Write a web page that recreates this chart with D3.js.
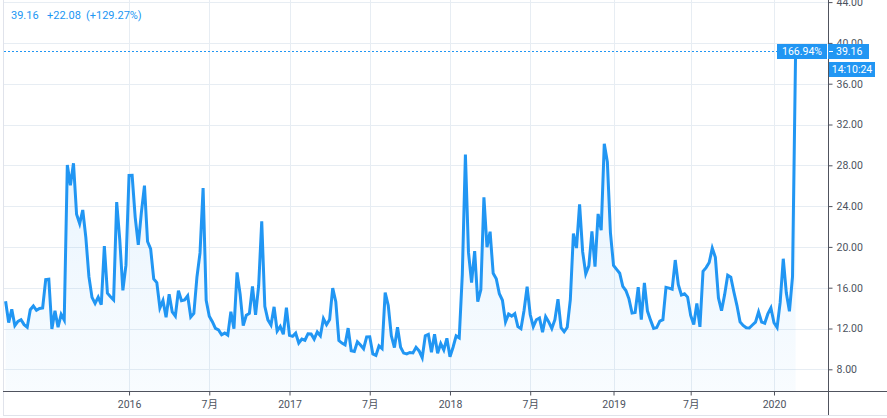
<!DOCTYPE html>
<html><head><meta charset="utf-8">
<script src="https://cdn.jsdelivr.net/npm/d3@7"></script>
<style>
html,body{margin:0;padding:0;background:#fff;overflow:hidden;}
svg{display:block;font-family:Roboto,"Noto Sans CJK SC",sans-serif;}
</style></head><body>
<svg id="chart" width="887" height="418"></svg>
<script>
// ---- data (weekly closes, first bar week of 2015-03-30) ----
const startDate = "2015-03-30";
const values = [
14.67,12.58,13.89,12.29,12.70,12.86,12.38,12.13,13.84,14.21,
13.78,13.96,14.02,16.79,16.83,11.95,13.74,12.12,13.39,12.83,
28.03,26.05,28.20,23.20,22.28,23.62,20.94,17.08,15.05,14.46,
15.07,14.33,20.08,15.47,15.12,14.81,24.39,20.70,15.74,18.21,
27.01,27.02,22.90,20.20,23.38,26.00,20.53,19.81,16.86,16.50,
14.02,14.74,13.10,15.36,13.62,13.22,15.70,14.72,14.80,15.20,
13.12,13.47,17.03,19.41,25.76,14.77,13.20,12.67,12.02,11.87,
11.39,11.55,11.34,13.65,11.98,17.50,15.37,12.29,13.29,13.48,
16.12,13.34,16.19,22.51,14.17,12.85,12.34,14.12,11.75,12.20,
11.44,14.04,11.32,11.23,11.54,10.58,10.97,10.85,11.49,11.47,
10.96,11.66,11.28,12.96,12.37,12.87,15.96,14.63,10.82,10.57,
10.40,12.04,9.81,9.75,10.70,10.38,10.02,11.18,11.19,9.51,
9.36,10.29,10.03,15.51,14.26,11.28,10.13,12.12,10.17,9.59,
9.51,9.65,9.61,10.15,9.80,9.14,11.29,11.43,9.67,11.43,
9.58,10.53,9.90,11.04,9.22,10.16,11.27,11.08,17.31,29.06,
19.46,16.49,19.59,14.64,15.80,24.87,19.97,21.49,17.41,16.88,
15.41,14.77,12.65,13.42,13.22,13.46,12.18,11.98,13.77,16.09,
13.37,12.18,12.86,13.03,11.64,13.16,12.64,11.99,12.86,14.88,
12.07,11.68,12.12,14.82,21.31,19.89,24.16,19.51,17.36,18.14,
21.52,18.07,23.23,21.63,30.11,28.34,21.38,18.19,17.80,17.42,
16.14,15.72,14.91,13.51,13.57,16.05,12.88,16.48,13.71,12.82,
12.01,12.09,12.73,12.87,16.04,15.96,15.85,18.71,16.30,15.28,
15.40,15.08,13.28,12.39,14.45,12.16,17.61,17.97,18.47,19.87,
18.98,15.00,13.74,15.32,17.22,17.04,15.58,14.25,12.65,12.30,
12.07,12.05,12.34,12.62,13.62,12.63,12.51,13.43,14.02,12.56,
12.10,14.56,18.84,15.47,13.68,17.08,39.16
];
const xTickDates = ["2016-01-04","2016-07-04","2017-01-02","2017-07-03","2018-01-01","2018-07-02","2019-01-07","2019-07-01","2020-01-06"];
const xTickLabels = ["2016","7月","2017","7月","2018","7月","2019","7月","2020"];
const yTicks = [8,12,16,20,24,28,32,36,40,44];
const headerParts = ["39.16","+22.08","(+129.27%)"];
const pctLabel = "166.94%";
const lastLabel = "39.16";
const timeLabel = "14:10:24";

// ---- layout ----
const W = 887, H = 418;
const plotL = 3, plotR = 828, axisY = 391, bottomY = 415;
const blue = "#2196f3", gridC = "#e7edf3", axisC = "#50535e", textC = "#4c525e";

const parse = d3.utcParse("%Y-%m-%d");
const start = parse(startDate);
const dates = values.map((v, i) => d3.utcDay.offset(start, 7 * i));
const data = values.map((v, i) => ({date: dates[i], value: v}));

const x = d3.scaleUtc().domain([dates[0], dates[dates.length - 1]]).range([5.6, 795.6]);
const y = d3.scaleLinear().domain([8, 44]).range([369.3, 2.1]);

const svg = d3.select("#chart");
const defs = svg.append("defs");
defs.append("clipPath").attr("id", "plotClip").append("rect")
  .attr("x", plotL).attr("y", 0).attr("width", plotR - plotL).attr("height", axisY);
const grad = defs.append("linearGradient").attr("id", "areaGrad")
  .attr("gradientUnits", "userSpaceOnUse").attr("x1", 0).attr("x2", 0)
  .attr("y1", y(39.16)).attr("y2", axisY);
grad.append("stop").attr("offset", 0).attr("stop-color", blue).attr("stop-opacity", 0.13);
grad.append("stop").attr("offset", 1).attr("stop-color", blue).attr("stop-opacity", 0.03);

// frame
svg.append("line").attr("x1", 3.5).attr("x2", 3.5).attr("y1", 0).attr("y2", bottomY)
  .attr("stroke", "#e0e3eb");
svg.append("line").attr("x1", 3).attr("x2", W).attr("y1", bottomY + 0.5).attr("y2", bottomY + 0.5)
  .attr("stroke", "#e0e3eb");

// grid
const grid = svg.append("g");
grid.selectAll("line.h").data(yTicks).join("line").attr("class", "h")
  .attr("x1", plotL + 1).attr("x2", plotR)
  .attr("y1", d => Math.round(y(d)) + 0.5).attr("y2", d => Math.round(y(d)) + 0.5)
  .attr("stroke", gridC);
const xTicks = xTickDates.map(parse);
grid.selectAll("line.v").data(xTicks).join("line").attr("class", "v")
  .attr("x1", d => Math.round(x(d)) + 0.5).attr("x2", d => Math.round(x(d)) + 0.5)
  .attr("y1", 0).attr("y2", axisY)
  .attr("stroke", gridC);

// area + line
const plot = svg.append("g").attr("clip-path", "url(#plotClip)");
plot.append("path").datum(data)
  .attr("d", d3.area().x(d => x(d.date)).y0(axisY).y1(d => y(d.value)))
  .attr("fill", "url(#areaGrad)");
plot.append("path").datum(data)
  .attr("d", d3.line().x(d => x(d.date)).y(d => y(d.value)))
  .attr("fill", "none").attr("stroke", blue).attr("stroke-width", 3)
  .attr("stroke-linejoin", "miter").attr("stroke-miterlimit", 4);

// last price dashed line
const lastY = Math.round(y(values[values.length - 1])) + 0.5;
svg.append("line").attr("x1", plotL + 1).attr("x2", plotR).attr("y1", lastY).attr("y2", lastY)
  .attr("stroke", blue).attr("stroke-width", 1).attr("stroke-dasharray", "2,2");

// axes
const yAxis = d3.axisRight(y).tickValues(yTicks).tickFormat(d3.format(".2f"))
  .tickSize(4).tickPadding(4);
const yg = svg.append("g").attr("transform", `translate(${plotR + 0.5},0)`).call(yAxis);
yg.select(".domain").remove();
yg.selectAll("line").attr("stroke", axisC);
yg.selectAll("text").attr("fill", textC).attr("font-size", "10.5px")
  .attr("font-family", 'Roboto,"Noto Sans CJK SC",sans-serif');

const xAxis = d3.axisBottom(x).tickValues(xTicks)
  .tickFormat((d, i) => xTickLabels[i]).tickSize(4).tickPadding(5);
const xg = svg.append("g").attr("transform", `translate(0,${axisY + 0.5})`).call(xAxis);
xg.select(".domain").remove();
xg.selectAll("line").attr("stroke", axisC);
xg.selectAll("text").attr("fill", textC).attr("font-size", "10.5px")
  .attr("font-family", 'Roboto,"Noto Sans CJK SC",sans-serif');

svg.append("line").attr("x1", plotR + 0.5).attr("x2", plotR + 0.5).attr("y1", 0).attr("y2", bottomY)
  .attr("stroke", axisC);
svg.append("line").attr("x1", plotL).attr("x2", W).attr("y1", axisY + 0.5).attr("y2", axisY + 0.5)
  .attr("stroke", axisC);

// price labels
const boxY = lastY - 7.5;
svg.append("rect").attr("x", 777).attr("y", boxY).attr("width", 50).attr("height", 15).attr("fill", blue);
svg.append("text").attr("x", 802).attr("y", boxY + 7.5).attr("text-anchor", "middle")
  .attr("dominant-baseline", "central").attr("fill", "#fff").attr("font-size", "10.5px").text(pctLabel);
svg.append("rect").attr("x", plotR).attr("y", boxY).attr("width", 41).attr("height", 15).attr("fill", blue);
svg.append("line").attr("x1", plotR + 1).attr("x2", plotR + 5).attr("y1", lastY).attr("y2", lastY)
  .attr("stroke", "#fff");
svg.append("text").attr("x", 836).attr("y", boxY + 7.5)
  .attr("dominant-baseline", "central").attr("fill", "#fff").attr("font-size", "10.5px").text(lastLabel);
svg.append("rect").attr("x", 829).attr("y", boxY + 18).attr("width", 46).attr("height", 15).attr("fill", blue);
svg.append("text").attr("x", 852).attr("y", boxY + 25.5).attr("text-anchor", "middle")
  .attr("dominant-baseline", "central").attr("fill", "#fff").attr("font-size", "10.5px").text(timeLabel);

// header
const hx = [11, 47, 86];
svg.append("g").selectAll("text").data(headerParts).join("text")
  .attr("x", (d, i) => hx[i]).attr("y", 15.5).attr("dominant-baseline", "central")
  .attr("fill", blue).attr("font-size", "11px").text(d => d);
</script>
</body></html>
